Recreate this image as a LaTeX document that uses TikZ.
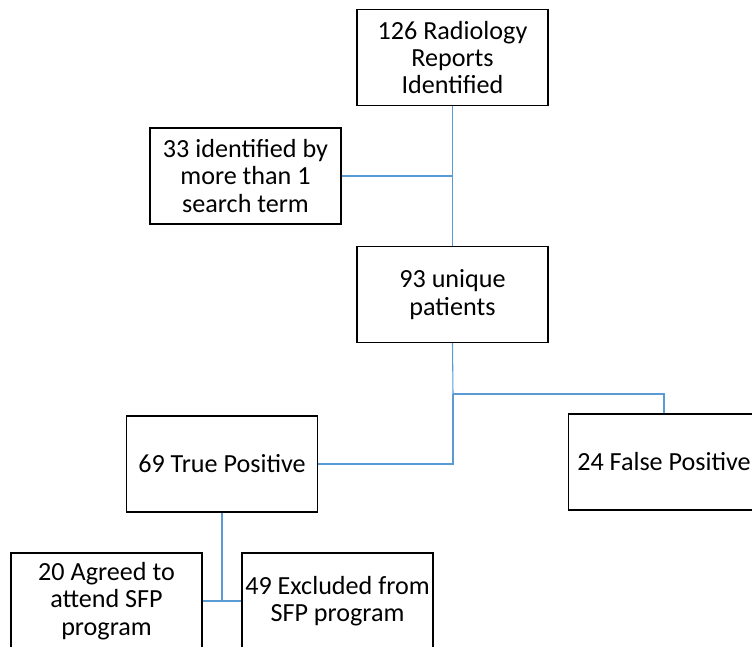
\documentclass[tikz,border=0pt]{standalone}
\usepackage{fontspec}
\setmainfont{Carlito}
\usepackage{tikz}
\usetikzlibrary{calc}
\definecolor{linkblue}{RGB}{91,155,213}

\begin{document}
\begin{tikzpicture}[x=0.75pt,y=-0.75pt,
	box/.style={draw,line width=1.1pt,minimum width=143.25pt,minimum height=72pt,
		inner sep=0pt,align=center,font=\fontsize{19.6}{20.6}\selectfont},
	link/.style={draw=linkblue,line width=0.8pt}]
		\useasboundingbox (0,0) rectangle (752,646);
		\node[box] (R) at (452.5,57.5) {126 Radiology\\Reports\\Identified};
		\node[box] (S) at (245.5,176) {33 identified by\\more than 1\\search term};
		\node[box] (U) at (452.5,294.5) {93 unique\\patients};
		\node[box] (T) at (222,464) {69 True Positive};
		\node[box] (F) at (664,462) {24 False Positive};
		\node[box] (G) at (106.5,601) {20 Agreed to\\attend SFP\\program};
		\node[box] (E) at (337.5,601) {49 Excluded from\\SFP program};
		\coordinate (J) at (453,394);
		
		\draw[link] (R.south)--(U.north);
		\draw[link] (S.east)--(S.east -| R.south);
		\draw[link] (U.south)--(J);
		\draw[link] (J) -| (F.north);
		\draw[link] (T.east) -| (J);
		\draw[link] (T.south)--(T.south |- G.east);
		\draw[link] (G.east)--(E.west);
\end{tikzpicture}
\end{document}
